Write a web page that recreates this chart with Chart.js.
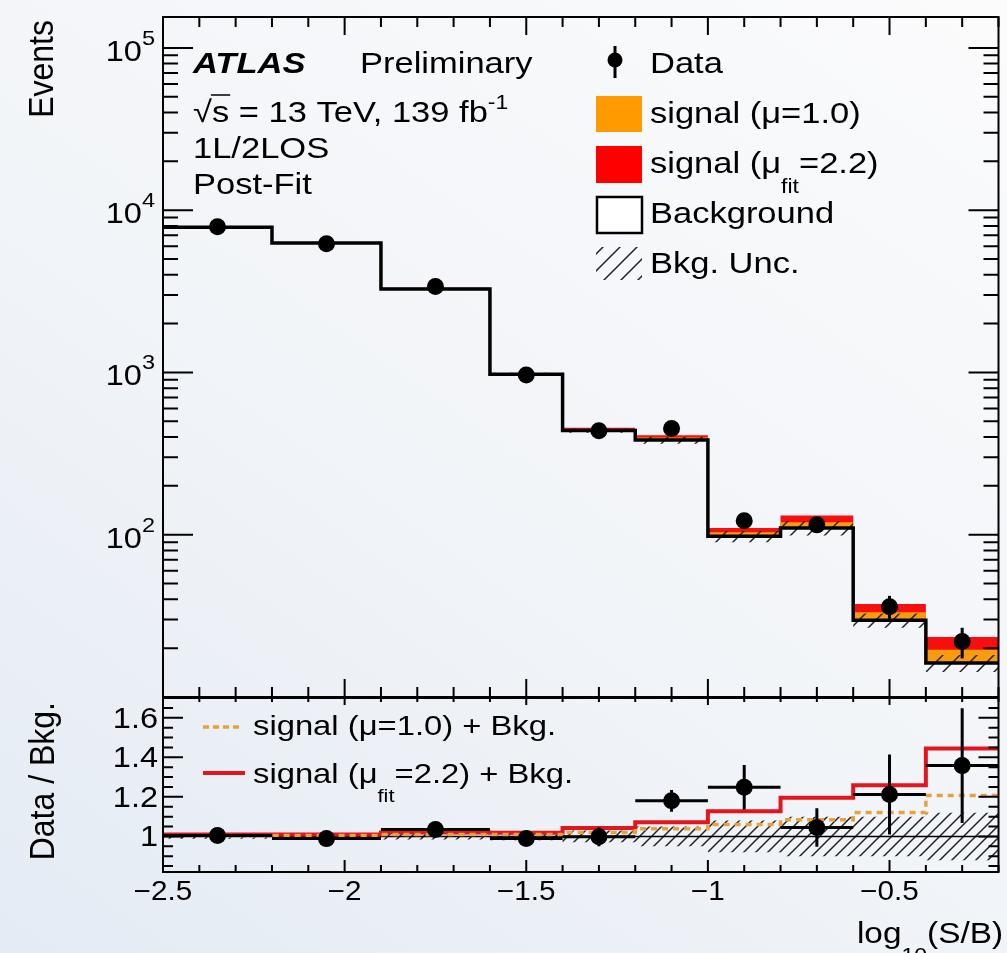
<!DOCTYPE html>
<html>
<head>
<meta charset="utf-8">
<script src="https://cdn.jsdelivr.net/npm/chart.js@4.4.1/dist/chart.umd.min.js"></script>
<style>
  html, body { margin: 0; padding: 0; }
  body {
    width: 1007px; height: 953px; overflow: hidden; position: relative;
    background: linear-gradient(35deg, #e4ebf4 0%, #f1f4f8 45%, #fbfbfc 100%);
  }
  canvas { position: absolute; left: 0; top: 0; }
</style>
</head>
<body>
<canvas id="main" width="1007" height="953"></canvas>
<canvas id="ratio" width="1007" height="953"></canvas>
<script>
// bins in log10(S/B)
const binEdges = [-2.5, -2.2, -1.9, -1.6, -1.4, -1.2, -1.0, -0.8, -0.6, -0.4, -0.2];
const background = [7860, 6270, 3265, 975, 438, 383, 97.7, 110, 29.7, 16.2];
const signalMu1 = [24, 31, 33, 9.8, 8.8, 14.6, 5.9, 9.2, 3.6, 3.35];
const signalFit = [71, 63, 65, 18.5, 18.4, 27.6, 12.4, 21.5, 7.7, 7.2];
const dataCounts = [7900, 6200, 3380, 965, 437, 452, 122, 115, 36, 22];
const dataErrors = [89, 79, 58, 31, 21, 21, 11, 10.7, 6, 4.7];
const bkgRelUnc = [0.012, 0.012, 0.015, 0.02, 0.03, 0.05, 0.08, 0.1, 0.1, 0.12];

const xTickLabels = [-2.5, -2, -1.5, -1, -0.5];
const mainTickExponents = [2, 3, 4, 5];
const ratioTickLabels = [1, 1.2, 1.4, 1.6];

const FF = '"Liberation Sans", Arial, Helvetica, sans-serif';
const SX = 1.15;
const font = (size, style = "") => `${style} ${size}px ${FF}`;

const centers = background.map((_, i) => (binEdges[i] + binEdges[i + 1]) / 2);
const steps = vals => binEdges.map((x, i) => ({ x, y: vals[Math.min(i, vals.length - 1)] }));

const hatch = (step, color) => {
  const c = document.createElement("canvas");
  c.width = step; c.height = step;
  const g = c.getContext("2d");
  g.strokeStyle = color;
  g.lineWidth = 1.5;
  g.beginPath();
  g.moveTo(-2, step + 2); g.lineTo(step + 2, -2);
  g.moveTo(-2, 2); g.lineTo(2, -2);
  g.moveTo(step - 2, step + 2); g.lineTo(step + 2, step - 2);
  g.stroke();
  return g.createPattern(c, "repeat");
};
const hatchMain = hatch(17, "#222");
const hatchRatio = hatch(12, "#222");

const richText = (ctx, pieces, x, y, align = "left", sx = SX) => {
  const widths = pieces.map(p => { ctx.font = p.font; return ctx.measureText(p.t).width * sx; });
  const total = widths.reduce((a, b) => a + b, 0);
  let cx = align === "right" ? x - total : align === "center" ? x - total / 2 : x;
  const starts = [];
  pieces.forEach((p, i) => {
    starts.push(cx);
    ctx.save();
    ctx.font = p.font;
    ctx.translate(cx, y + (p.dy || 0));
    ctx.scale(sx, 1);
    ctx.textAlign = "left";
    ctx.textBaseline = "alphabetic";
    ctx.fillText(p.t, 0, 0);
    ctx.restore();
    cx += widths[i];
  });
  starts.push(cx);
  return starts;
};

const vText = (ctx, t, x, y, f, sx = 1.08) => {
  ctx.save();
  ctx.font = f;
  ctx.translate(x, y);
  ctx.scale(sx, 1);
  ctx.rotate(-Math.PI / 2);
  ctx.textAlign = "right";
  ctx.textBaseline = "alphabetic";
  ctx.fillText(t, 0, 0);
  ctx.restore();
};

// error bars drawn just before the data points
const errorBars = (points, horizontal) => ({
  id: "errorBars",
  beforeDatasetDraw(chart, args) {
    if (args.index !== 0) return;
    const { x: xs, y: ys } = chart.scales;
    const ctx = chart.ctx;
    ctx.save();
    ctx.strokeStyle = "#000";
    ctx.lineWidth = 3;
    points.forEach(p => {
      const px = xs.getPixelForValue(p.x);
      ctx.beginPath();
      ctx.moveTo(px, ys.getPixelForValue(p.y - p.err));
      ctx.lineTo(px, ys.getPixelForValue(p.y + p.err));
      if (horizontal) {
        const py = ys.getPixelForValue(p.y);
        ctx.moveTo(xs.getPixelForValue(p.lo), py);
        ctx.lineTo(xs.getPixelForValue(p.hi), py);
      }
      ctx.stroke();
    });
    ctx.restore();
  }
});

const drawFrame = (chart, xTicks, yTicks) => {
  const ctx = chart.ctx;
  const { left, right, top, bottom } = chart.chartArea;
  const { x: xs, y: ys } = chart.scales;
  ctx.save();
  ctx.strokeStyle = "#000";
  ctx.lineWidth = 2;
  ctx.beginPath();
  xTicks.forEach(t => {
    const px = xs.getPixelForValue(t.v);
    ctx.moveTo(px, top); ctx.lineTo(px, top + t.lenTop);
    ctx.moveTo(px, bottom); ctx.lineTo(px, bottom - t.lenBottom);
  });
  yTicks.forEach(t => {
    const py = ys.getPixelForValue(t.v);
    ctx.moveTo(left, py); ctx.lineTo(left + t.len, py);
    ctx.moveTo(right, py); ctx.lineTo(right - t.len, py);
  });
  ctx.stroke();
  ctx.strokeRect(left, top, right - left, bottom - top);
  ctx.restore();
};

const xTickList = (lenMajorTop, lenMinorTop, lenMajorBottom, lenMinorBottom) => {
  const list = [];
  for (let k = 0; k <= 23; k++) {
    const major = k % 5 === 0;
    list.push({
      v: -2.5 + k * 0.1,
      lenTop: major ? lenMajorTop : lenMinorTop,
      lenBottom: major ? lenMajorBottom : lenMinorBottom
    });
  }
  return list;
};

// ---------- main panel ----------
const stackMu1 = background.map((b, i) => b + signalMu1[i]);
const stackFit = background.map((b, i) => b + signalFit[i]);
const bkgUp = background.map((b, i) => b * (1 + bkgRelUnc[i]));
const bkgDn = background.map((b, i) => b * (1 - bkgRelUnc[i]));

const mainPoints = centers.map((x, i) => ({ x, y: dataCounts[i], err: dataErrors[i] }));

const mainDecor = {
  id: "mainDecor",
  afterDraw(chart) {
    const ctx = chart.ctx;
    const ys = chart.scales.y;
    const yTicks = [];
    for (let e = 1; e <= 5; e++) {
      for (let m = 1; m <= 9; m++) {
        const v = m * Math.pow(10, e);
        if (v >= ys.min && v <= ys.max) yTicks.push({ v, len: m === 1 ? 30 : 15 });
      }
    }
    drawFrame(chart, xTickList(18, 10, 18, 10), yTicks);

    ctx.save();
    ctx.fillStyle = "#000";
    mainTickExponents.forEach(e => {
      const py = ys.getPixelForValue(Math.pow(10, e));
      richText(ctx, [
        { t: "10", font: font(29) },
        { t: String(e), font: font(21), dy: -16 }
      ], 155, py + 13, "right", 1.12);
    });

    vText(ctx, "Events", 53, 20, font(32));

    richText(ctx, [{ t: "ATLAS", font: font(30, "italic bold") }], 193, 73);
    richText(ctx, [{ t: "Preliminary", font: font(30) }], 360, 73);
    const s = richText(ctx, [
      { t: "\u221A", font: font(30) },
      { t: "s", font: font(30) },
      { t: " = 13 TeV, 139 fb", font: font(30) },
      { t: "-1", font: font(20), dy: -13 }
    ], 193, 122);
    ctx.strokeStyle = "#000";
    ctx.lineWidth = 1.5;
    ctx.beginPath();
    ctx.moveTo(s[1] - 1, 122 - 27);
    ctx.lineTo(s[2] + 1, 122 - 27);
    ctx.stroke();
    richText(ctx, [{ t: "1L/2LOS", font: font(30) }], 193, 158);
    richText(ctx, [{ t: "Post-Fit", font: font(30) }], 193, 194);

    // legend
    ctx.beginPath();
    ctx.arc(615, 60, 7.5, 0, Math.PI * 2);
    ctx.fill();
    ctx.lineWidth = 3;
    ctx.beginPath();
    ctx.moveTo(615, 46); ctx.lineTo(615, 78);
    ctx.stroke();
    richText(ctx, [{ t: "Data", font: font(30) }], 650, 73);

    ctx.fillStyle = "#ff9a00";
    ctx.fillRect(596, 96, 46, 36);
    ctx.fillStyle = "#000";
    richText(ctx, [{ t: "signal (\u03BC=1.0)", font: font(30) }], 650, 123);

    ctx.fillStyle = "#ff0000";
    ctx.fillRect(596, 146, 46, 37);
    ctx.fillStyle = "#000";
    richText(ctx, [
      { t: "signal (\u03BC", font: font(30) },
      { t: "fit", font: font(20), dy: 20 },
      { t: "=2.2)", font: font(30) }
    ], 650, 173);

    ctx.fillStyle = "#ffffff";
    ctx.fillRect(597, 197, 45, 36);
    ctx.lineWidth = 2.5;
    ctx.strokeRect(597, 197, 45, 36);
    ctx.fillStyle = "#000";
    richText(ctx, [{ t: "Background", font: font(30) }], 650, 223);

    ctx.fillStyle = hatchMain;
    ctx.fillRect(596, 247, 46, 33);
    ctx.fillStyle = "#000";
    richText(ctx, [{ t: "Bkg. Unc.", font: font(30) }], 650, 273);
    ctx.restore();
  }
};

new Chart(document.getElementById("main"), {
  type: "line",
  data: {
    datasets: [
      {
        type: "scatter", data: mainPoints.map(p => ({ x: p.x, y: p.y })),
        pointRadius: 8.5, pointHoverRadius: 8.5, pointBorderWidth: 0,
        backgroundColor: "#000", showLine: false, order: 0
      },
      {
        data: steps(background), stepped: true, borderColor: "#000", borderWidth: 3.5,
        borderJoinStyle: "miter", pointRadius: 0, fill: false, order: 1
      },
      {
        data: steps(bkgUp), stepped: true, borderColor: "transparent", pointRadius: 0,
        backgroundColor: hatchMain, fill: 3, order: 2
      },
      {
        data: steps(bkgDn), stepped: true, borderColor: "transparent", pointRadius: 0,
        fill: false, order: 9
      },
      {
        data: steps(stackMu1), stepped: true, borderColor: "transparent", pointRadius: 0,
        backgroundColor: "#f89b0c", fill: 1, order: 3
      },
      {
        data: steps(stackFit), stepped: true, borderColor: "transparent", pointRadius: 0,
        backgroundColor: "#f70f0f", fill: 1, order: 4
      }
    ]
  },
  options: {
    responsive: false,
    animation: false,
    events: [],
    layout: { padding: { left: 163, right: 4, top: 17, bottom: 256 } },
    scales: {
      x: { type: "linear", min: -2.5, max: -0.2, display: false },
      y: { type: "logarithmic", min: 10, max: 155000, display: false }
    },
    plugins: { legend: { display: false }, tooltip: { enabled: false } }
  },
  plugins: [errorBars(mainPoints, false), mainDecor]
});

// ---------- ratio panel ----------
const ratioData = dataCounts.map((d, i) => d / background[i]);
const ratioErr = dataErrors.map((e, i) => e / background[i]);
const ratioMu1 = stackMu1.map((v, i) => v / background[i]);
const ratioFit = stackFit.map((v, i) => v / background[i]);
const ratioUp = bkgRelUnc.map(u => 1 + u);
const ratioDn = bkgRelUnc.map(u => 1 - u);
const ratioOne = background.map(() => 1);

const ratioPoints = centers.map((x, i) => ({
  x, y: ratioData[i], err: ratioErr[i], lo: binEdges[i], hi: binEdges[i + 1]
}));

const ratioDecor = {
  id: "ratioDecor",
  afterDraw(chart) {
    const ctx = chart.ctx;
    const { x: xs, y: ys } = chart.scales;
    const yTicks = [];
    for (let k = 0; k <= 17; k++) {
      const v = 0.85 + k * 0.05;
      if (v > ys.max + 1e-9) break;
      const major = ratioTickLabels.some(l => Math.abs(l - v) < 1e-6);
      yTicks.push({ v, len: major ? 20 : 10 });
    }
    drawFrame(chart, xTickList(7, 4, 12, 7), yTicks);

    ctx.save();
    ctx.fillStyle = "#000";
    ratioTickLabels.forEach(v => {
      const py = ys.getPixelForValue(v);
      richText(ctx, [{ t: String(v), font: font(29) }], 158, py + 10, "right", 1.12);
    });
    xTickLabels.forEach(v => {
      const px = xs.getPixelForValue(v);
      richText(ctx, [{ t: String(v).replace("-", "\u2212"), font: font(27) }], px, 900, "center", 1.1);
    });

    vText(ctx, "Data / Bkg.", 54, 702, font(32));
    richText(ctx, [
      { t: "log", font: font(29) },
      { t: "10", font: font(20), dy: 19 },
      { t: "(S/B)", font: font(29) }
    ], 1003, 943, "right");

    // legend
    ctx.lineWidth = 3.5;
    ctx.strokeStyle = "#e8a23c";
    ctx.setLineDash([6, 4]);
    ctx.beginPath();
    ctx.moveTo(203, 727); ctx.lineTo(243, 727);
    ctx.stroke();
    ctx.setLineDash([]);
    ctx.strokeStyle = "#e3151d";
    ctx.lineWidth = 4;
    ctx.beginPath();
    ctx.moveTo(203, 773); ctx.lineTo(245, 773);
    ctx.stroke();
    richText(ctx, [{ t: "signal (\u03BC=1.0) + Bkg.", font: font(28.5) }], 253, 735);
    richText(ctx, [
      { t: "signal (\u03BC", font: font(28.5) },
      { t: "fit", font: font(19), dy: 19 },
      { t: "=2.2) + Bkg.", font: font(28.5) }
    ], 253, 783);
    ctx.restore();
  }
};

new Chart(document.getElementById("ratio"), {
  type: "line",
  data: {
    datasets: [
      {
        type: "scatter", data: ratioPoints.map(p => ({ x: p.x, y: p.y })),
        pointRadius: 8.5, pointHoverRadius: 8.5, pointBorderWidth: 0,
        backgroundColor: "#000", showLine: false, order: 0
      },
      {
        data: steps(ratioMu1), stepped: true, borderColor: "#e8a23c", borderWidth: 3.5,
        borderDash: [6, 5], pointRadius: 0, fill: false, order: 1
      },
      {
        data: steps(ratioFit), stepped: true, borderColor: "#e3151d", borderWidth: 4,
        borderJoinStyle: "miter", pointRadius: 0, fill: false, order: 2
      },
      {
        data: steps(ratioOne), stepped: true, borderColor: "#000", borderWidth: 1.5,
        pointRadius: 0, fill: false, order: 3
      },
      {
        data: steps(ratioUp), stepped: true, borderColor: "transparent", pointRadius: 0,
        backgroundColor: hatchRatio, fill: 5, order: 4
      },
      {
        data: steps(ratioDn), stepped: true, borderColor: "transparent", pointRadius: 0,
        fill: false, order: 9
      }
    ]
  },
  options: {
    responsive: false,
    animation: false,
    events: [],
    layout: { padding: { left: 163, right: 4, top: 698, bottom: 81 } },
    scales: {
      x: { type: "linear", min: -2.5, max: -0.2, display: false },
      y: { type: "linear", min: 0.82, max: 1.7, display: false }
    },
    plugins: { legend: { display: false }, tooltip: { enabled: false } }
  },
  plugins: [errorBars(ratioPoints, true), ratioDecor]
});
</script>
</body>
</html>
